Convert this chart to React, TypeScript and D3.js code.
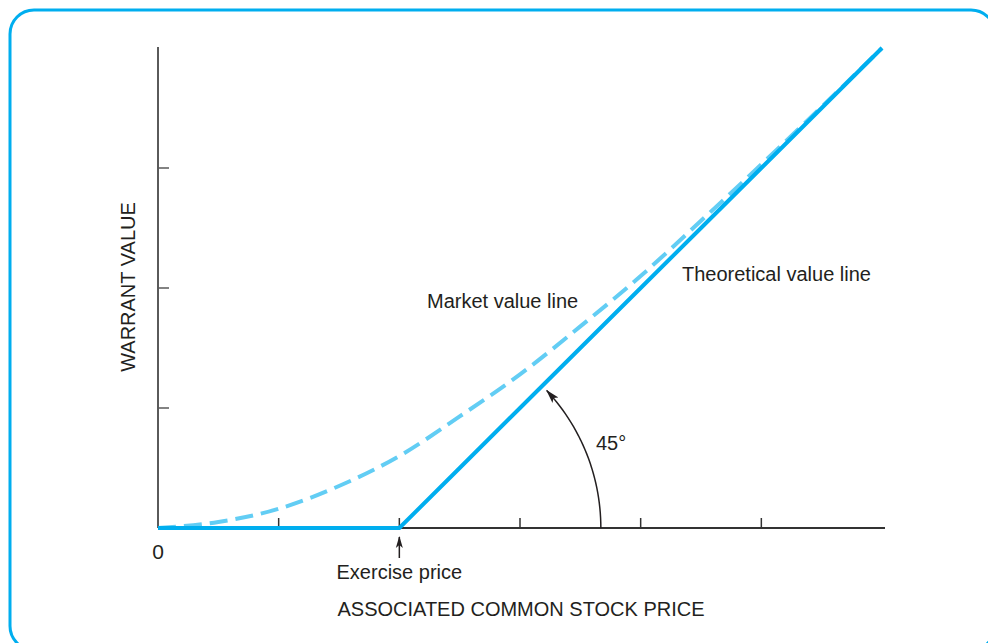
import React from 'react';
import * as d3 from 'd3';

// stock price in grid units, exercise price sits on the 2nd tick
const exercisePrice = 2;
const stockPrices = [0, 0.5, 1, 1.5, 2, 2.5, 3, 3.5, 4, 4.5, 5, 5.5, 6];
const marketValues = [0, 0.05, 0.16, 0.35, 0.6, 0.93, 1.28, 1.68, 2.1, 2.56, 3.03, 3.51, 4.0];
const theoreticalValues = stockPrices.map(p => Math.max(0, p - exercisePrice));
const xTicks = [1, 2, 3, 4, 5];
const yTicks = [1, 2, 3];

const W = 988;
const H = 643;
const FONT = '"Liberation Sans", Arial, sans-serif';
const FS = 20;
const TEXT = '#231f20';
const BLUE = '#00aeef';
const LIGHT_BLUE = '#62cdf4';

export default function App() {
  const x = d3.scaleLinear().domain([0, 6]).range([158, 882]);
  const y = d3.scaleLinear().domain([0, 4]).range([528, 48]);

  const market = d3.line<[number, number]>()
    .x(d => x(d[0]))
    .y(d => y(d[1]))
    .curve(d3.curveMonotoneX)(stockPrices.map((p, i) => [p, marketValues[i]] as [number, number])) || '';
  const theoretical = d3.line<[number, number]>()
    .x(d => x(d[0]))
    .y(d => y(d[1]))(stockPrices.map((p, i) => [p, theoreticalValues[i]] as [number, number])) || '';

  // 45 degree arc centred on the exercise price
  const cx = x(exercisePrice);
  const cy = y(0);
  const r = x(exercisePrice + 1.67) - cx;
  const endAngle = (43 * Math.PI) / 180;
  const arcPts = d3.range(0, 31).map(i => {
    const a = (endAngle * i) / 30;
    return [cx + r * Math.cos(a), cy - r * Math.sin(a)] as [number, number];
  });
  const arcPath = d3.line()(arcPts) || '';

  return (
    <svg width={W} height={H} style={{ position: 'absolute', left: 0, top: 0, fontFamily: FONT }}>
      <defs>
        <marker id="arrow" viewBox="0 0 14 10" refX="13" refY="5" markerWidth="14" markerHeight="10" orient="auto" markerUnits="userSpaceOnUse">
          <path d="M0,1 L14,5 L0,9 L3,5 Z" fill={TEXT} />
        </marker>
        <marker id="arrowUp" viewBox="0 0 12 8" refX="11" refY="4" markerWidth="12" markerHeight="8" orient="auto" markerUnits="userSpaceOnUse">
          <path d="M0,0.5 L12,4 L0,7.5 L3,4 Z" fill={TEXT} />
        </marker>
      </defs>
      <rect x={10} y={10} width={985} height={640} rx={24} fill="white" stroke={BLUE} strokeWidth={3} />

      {/* axes */}
      <line x1={x(0)} x2={x(0)} y1={y(0)} y2={y(4) - 1} stroke="#5a5a5a" strokeWidth={2} />
      <line x1={x(0)} x2={x(6) + 3} y1={y(0)} y2={y(0)} stroke="#333" strokeWidth={2} />
      {xTicks.map(t => (
        <line key={'x' + t} x1={x(t)} x2={x(t)} y1={y(0)} y2={y(0) - 10} stroke="#333" strokeWidth={1.5} />
      ))}
      {yTicks.map(t => (
        <line key={'y' + t} x1={x(0)} x2={x(0) + 11} y1={y(t)} y2={y(t)} stroke="#5a5a5a" strokeWidth={1.5} />
      ))}

      {/* lines */}
      <path d={market} fill="none" stroke={LIGHT_BLUE} strokeWidth={4} strokeDasharray="18 8" />
      <path d={theoretical} fill="none" stroke={BLUE} strokeWidth={4} />

      {/* 45 degree arc */}
      <path d={arcPath} fill="none" stroke={TEXT} strokeWidth={1.5} markerEnd="url(#arrow)" />
      <text x={596} y={450} fontSize={FS} fill={TEXT}>45°</text>

      {/* exercise price arrow */}
      <line x1={x(exercisePrice)} x2={x(exercisePrice)} y1={558} y2={537} stroke={TEXT} strokeWidth={1.5} markerEnd="url(#arrowUp)" />
      <text x={x(exercisePrice)} y={579} fontSize={FS} fill={TEXT} textAnchor="middle">Exercise price</text>
      <text x={x(0)} y={559} fontSize={21} fill={TEXT} textAnchor="middle">0</text>

      <text x={427} y={308} fontSize={FS} fill={TEXT}>Market value line</text>
      <text x={682} y={281} fontSize={FS} fill={TEXT}>Theoretical value line</text>

      <text x={521} y={616} fontSize={FS} fill={TEXT} textAnchor="middle">ASSOCIATED COMMON STOCK PRICE</text>
      <text transform={`translate(135,287) rotate(-90)`} fontSize={FS} fill={TEXT} textAnchor="middle">WARRANT VALUE</text>
    </svg>
  );
}
